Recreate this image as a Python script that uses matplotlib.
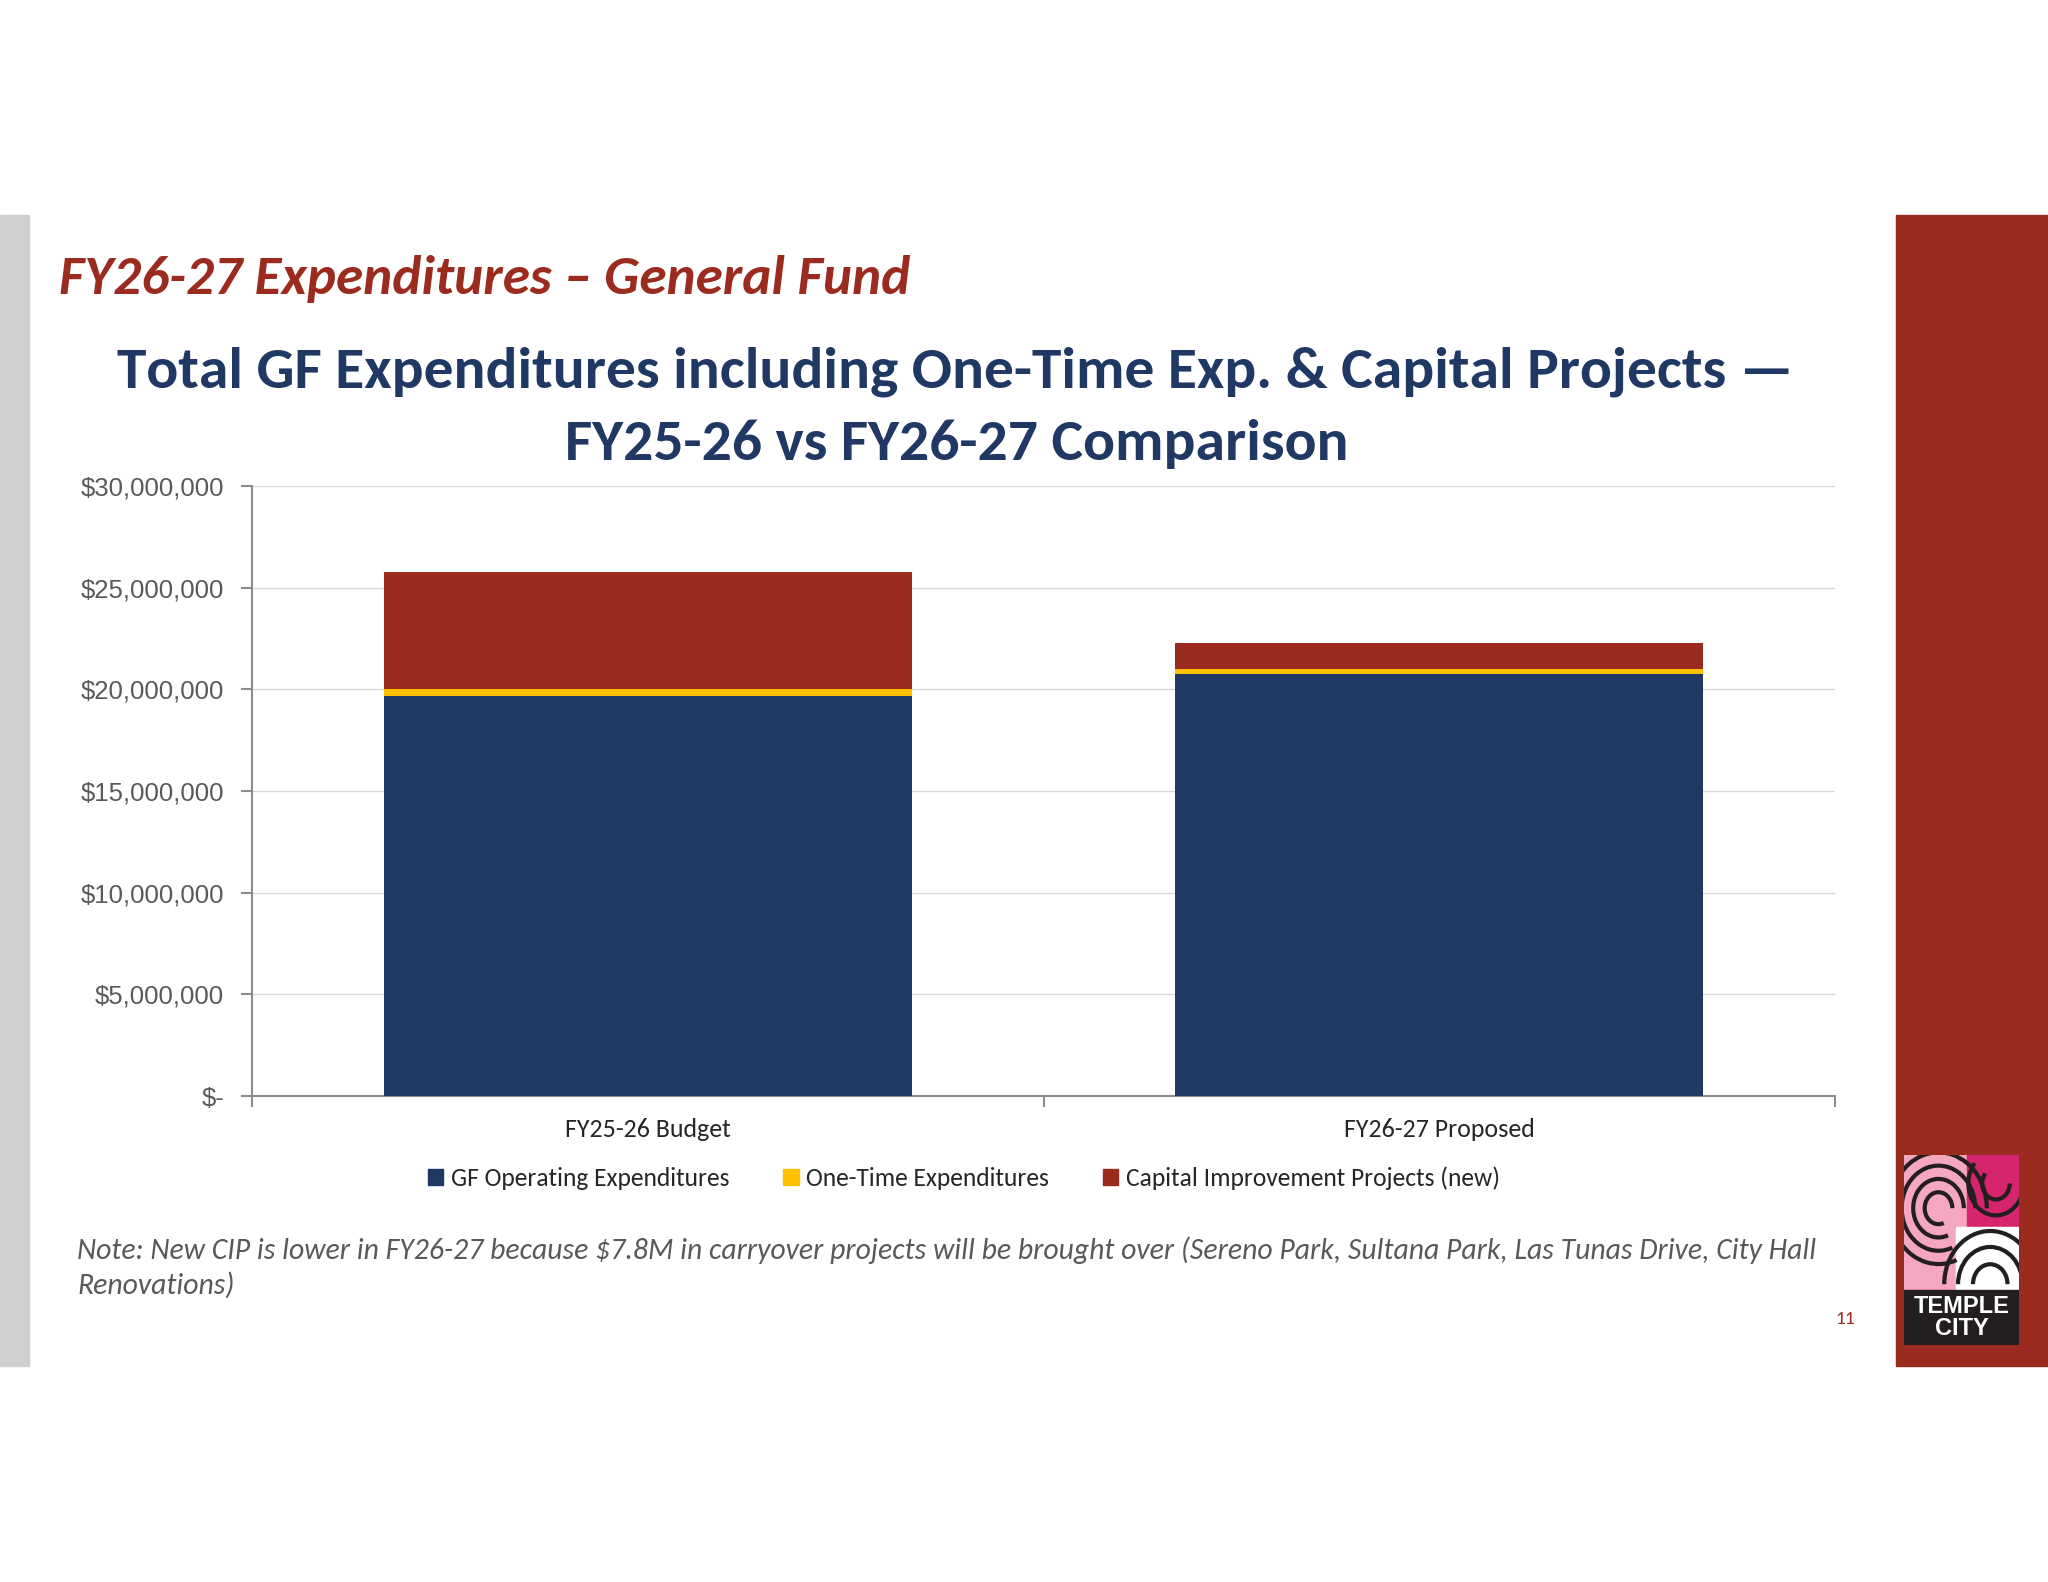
import matplotlib
matplotlib.use("Agg")
import matplotlib.pyplot as plt
from matplotlib import font_manager
from matplotlib.patches import Rectangle, Patch, Arc
import matplotlib.ticker as ticker

# ---------------------------------------------------------------
# Data
# ---------------------------------------------------------------
categories = ["FY25-26 Budget", "FY26-27 Proposed"]
operating = [19650000, 20750000]
one_time = [350000, 250000]
cip_new = [5760000, 1260000]
series_names = ["GF Operating Expenditures", "One-Time Expenditures",
                "Capital Improvement Projects (new)"]
y_ticks = [0, 5000000, 10000000, 15000000, 20000000, 25000000, 30000000]

NAVY = "#1F3864"
GOLD = "#FFC000"
BRICK = "#9C2B1F"
GRAY_TXT = "#595959"

installed = {f.name for f in font_manager.fontManager.ttflist}
SANS = [f for f in ["Carlito", "Lato", "Open Sans"] if f in installed] + ["DejaVu Sans"]
ARIAL = [f for f in ["Liberation Sans", "Arial"] if f in installed] + ["DejaVu Sans"]
plt.rcParams["font.family"] = SANS

fig = plt.figure(figsize=(20.48, 15.82), dpi=100, facecolor="white")

# side bands of the slide
fig.patches.append(Rectangle((0, 0.1365), 29 / 2048, 0.7275,
                             transform=fig.transFigure, color="#CFCFCF", zorder=-5))
fig.patches.append(Rectangle((1896 / 2048, 0.1365), 152 / 2048, 0.7275,
                             transform=fig.transFigure, color=BRICK, zorder=-5))

# headings
fig.text(59 / 2048, 1 - 279 / 1582, "FY26-27 Expenditures \u2013 General Fund",
         fontsize=39.8, fontweight="bold", fontstyle="italic", color=BRICK,
         ha="left", va="center")
fig.text(955 / 2048, 1 - 372 / 1582,
         "Total GF Expenditures including One-Time Exp. & Capital Projects \u2014",
         fontsize=42.8, fontweight="bold", color=NAVY, ha="center", va="center")
fig.text(957 / 2048, 1 - 444 / 1582, "FY25-26 vs FY26-27 Comparison",
         fontsize=42.8, fontweight="bold", color=NAVY, ha="center", va="center")

# ---------------------------------------------------------------
# Stacked bar chart
# ---------------------------------------------------------------
ax = fig.add_axes([252 / 2048, 1 - 1096 / 1582, 1583 / 2048, 610 / 1582])
x = list(range(len(categories)))
w = 0.667
ax.bar(x, operating, w, color=NAVY, label=series_names[0], zorder=3)
ax.bar(x, one_time, w, bottom=operating, color=GOLD, label=series_names[1], zorder=3)
base2 = [a + b for a, b in zip(operating, one_time)]
ax.bar(x, cip_new, w, bottom=base2, color=BRICK, label=series_names[2], zorder=3)

ax.set_xlim(-0.5, 1.5)
ax.set_ylim(0, 30000000)
ax.set_yticks(y_ticks)
ax.yaxis.set_major_formatter(ticker.FuncFormatter(
    lambda v, p: "$-" if v == 0 else f"${v:,.0f}"))
for lab in ax.get_yticklabels():
    lab.set_family(ARIAL)
ax.tick_params(axis="y", labelsize=18.5, labelcolor=GRAY_TXT, color="#8C8C8C",
               length=8, width=1.5, pad=12)

ax.set_xticks(x)
ax.set_xticklabels(categories, fontsize=18.6, color="#262626")
ax.tick_params(axis="x", length=0, pad=16)
ax.set_xticks([-0.5, 0.5, 1.5], minor=True)
ax.tick_params(axis="x", which="minor", length=8, width=1.5, color="#8C8C8C")

ax.grid(axis="y", color="#D9D9D9", linewidth=1.0, zorder=0)
for side in ["top", "right"]:
    ax.spines[side].set_visible(False)
for side in ["left", "bottom"]:
    ax.spines[side].set_color("#8C8C8C")
    ax.spines[side].set_linewidth(1.5)

handles = [Patch(color=NAVY), Patch(color=GOLD), Patch(color=BRICK)]
fig.legend(handles, series_names, loc="center", ncol=3,
           bbox_to_anchor=(964 / 2048, 1 - 1178 / 1582), frameon=False,
           fontsize=18.4, handlelength=0.6, handleheight=0.6,
           handletextpad=0.3, columnspacing=2.1, labelcolor="#262626")

# note + page number
fig.text(77 / 2048, 1 - 1250 / 1582,
         "Note: New CIP is lower in FY26-27 because $7.8M in carryover projects "
         "will be brought over (Sereno Park, Sultana Park, Las Tunas Drive, City Hall",
         fontsize=21.4, fontstyle="italic", color=GRAY_TXT, ha="left", va="center")
fig.text(77 / 2048, 1 - 1285 / 1582, "Renovations)",
         fontsize=21.4, fontstyle="italic", color=GRAY_TXT, ha="left", va="center")
fig.text(1845 / 2048, 1 - 1319 / 1582, "11", fontsize=14, color=BRICK,
         ha="center", va="center")

# ---------------------------------------------------------------
# Logo (simplified)
# ---------------------------------------------------------------
lg = fig.add_axes([1904 / 2048, 1 - 1345 / 1582, 115 / 2048, 190 / 1582])
lg.set_xlim(0, 1)
lg.set_ylim(0, 1)
lg.axis("off")
lg.add_patch(Rectangle((0, 0.29), 1, 0.71, color="#F4A7BE"))
lg.add_patch(Rectangle((0.55, 0.62), 0.45, 0.38, color="#D6246E"))
lg.add_patch(Rectangle((0.45, 0.29), 0.55, 0.33, color="white"))
for r in [0.12, 0.22, 0.32, 0.42]:
    lg.add_patch(Arc((0.3, 0.72), r * 2, r * 1.4, theta1=0, theta2=300,
                     color="#231F20", lw=3))
for r in [0.15, 0.28, 0.4]:
    lg.add_patch(Arc((0.75, 0.32), r * 2, r * 1.4, theta1=0, theta2=180,
                     color="#231F20", lw=3))
for r in [0.12, 0.24]:
    lg.add_patch(Arc((0.8, 0.85), r * 2, r * 1.4, theta1=150, theta2=360,
                     color="#231F20", lw=3))
lg.add_patch(Rectangle((0, 0), 1, 0.29, color="#231F20"))
lg.text(0.5, 0.145, "TEMPLE\nCITY", color="white", fontsize=17, fontweight="bold",
        ha="center", va="center", linespacing=0.95, family=ARIAL)

fig.savefig("out.png", dpi=100, facecolor="white")
